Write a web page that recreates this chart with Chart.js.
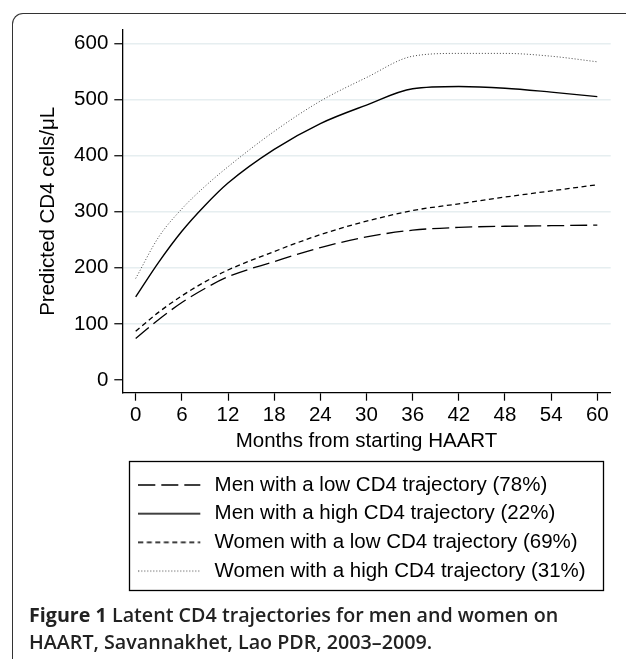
<!DOCTYPE html>
<html>
<head>
<meta charset="utf-8">
<script src="https://cdn.jsdelivr.net/npm/chart.js@4"></script>
<style>
  body { margin: 0; background: #fff; }
  .wrap { position: absolute; left: 0; top: 0; width: 626px; height: 659px; overflow: hidden; }
  .frame { position: absolute; left: 12px; top: 13px; width: 800px; height: 800px;
           border-top: 1.4px solid #333; border-left: 1.4px solid #333; border-top-left-radius: 11px; }
  .box { position: absolute; left: 0; top: 0; width: 626px; height: 659px; }
  .cap { position: absolute; left: 29px; top: 602px; font-family: "Open Sans", "Noto Sans", sans-serif;
         font-size: 19.7px; line-height: 26.7px; font-weight: 600; color: #222; white-space: nowrap; }
  .cap b { font-weight: 700; }
</style>
</head>
<body>
<div class="wrap">
  <div class="frame"></div>
  <div class="box"><canvas id="cd4"></canvas></div>
  <div class="cap"><b>Figure 1</b> Latent CD4 trajectories for men and women on<br>HAART, Savannakhet, Lao PDR, 2003–2009.</div>
</div>
<script>
// months since HAART start and predicted CD4 (cells/uL)
const months = [0, 3, 6, 9, 12, 18, 24, 30, 36, 42, 48, 54, 60]
const menLow    = [74, 108, 138, 163, 184, 211, 236, 255, 267, 272, 274, 275, 276]
const menHigh   = [148, 210, 265, 311, 351, 411, 457, 490, 519, 523, 520, 513, 505]
const womenLow  = [87, 121, 150, 175, 196, 229, 259, 283, 302, 314, 326, 337, 348]
const womenHigh = [181, 255, 305, 345, 380, 443, 497, 539, 577, 582, 582, 577, 567]

const seriesNames = [
    'Men with a low CD4 trajectory (78%)',
    'Men with a high CD4 trajectory (22%)',
    'Women with a low CD4 trajectory (69%)',
    'Women with a high CD4 trajectory (31%)'
]
const xTicks = [0, 6, 12, 18, 24, 30, 36, 42, 48, 54, 60]
const yTicks = [0, 100, 200, 300, 400, 500, 600]

const FONT = 'Liberation Sans, Arial, Helvetica, sans-serif'
const FS = 20.5
const SAMPLE_W = 66   // legend slot for the line sample
const SAMPLE_LINE = 62

function pts(vals){
    return months.map((m, i) => ({x: m, y: vals[i]}))
}

// small canvas with the dash pattern, used as the legend sample
// (chart.js legend ignores borderDash when usePointStyle is on)
function sample(dash, color, width){
    const c = document.createElement('canvas')
    c.width = SAMPLE_W
    c.height = 6
    const g = c.getContext('2d')
    g.strokeStyle = color
    g.lineWidth = width
    g.setLineDash(dash)
    g.beginPath()
    g.moveTo(0, 3)
    g.lineTo(SAMPLE_LINE, 3)
    g.stroke()
    return c
}

function line(label, vals, dash, color, width){
    return {
        label: label,
        data: pts(vals),
        borderColor: color,
        backgroundColor: color,
        borderWidth: width,
        borderDash: dash,
        pointRadius: 0,
        pointStyle: sample(dash, color, width),
        cubicInterpolationMode: 'monotone',
        fill: false
    }
}

// legend frame + legend placement
const legendFrame = {
    id: 'legendFrame',
    afterLayout(chart){
        chart.legend.left = 130.1
    },
    afterDraw(chart){
        const ctx = chart.ctx
        ctx.save()
        ctx.strokeStyle = '#000'
        ctx.lineWidth = 1.3
        ctx.strokeRect(129.5, 461.5, 474, 129)
        ctx.restore()
    }
}

const ctx = document.getElementById('cd4').getContext('2d')

new Chart(ctx, {
    type: 'line',
    data: {
        datasets: [
            line(seriesNames[0], menLow, [17, 6], '#000', 1.3),
            line(seriesNames[1], menHigh, [], '#000', 1.4),
            line(seriesNames[2], womenLow, [5, 3.5], '#000', 1.3),
            line(seriesNames[3], womenHigh, [1, 2], '#444', 1)
        ]
    },
    options: {
        responsive: true,
        maintainAspectRatio: false,
        animation: false,
        layout: { padding: { top: 30, right: 15.3, left: 0, bottom: 67.7 } },
        plugins: {
            tooltip: { enabled: false },
            legend: {
                position: 'bottom',
                align: 'start',
                labels: {
                    usePointStyle: true,
                    pointStyleWidth: SAMPLE_W,
                    boxHeight: 10,
                    padding: 8.2,
                    color: '#000',
                    font: { family: FONT, size: FS }
                }
            }
        },
        scales: {
            x: {
                type: 'linear',
                min: -1.74,
                max: 61.74,
                afterBuildTicks: s => { s.ticks = xTicks.map(v => ({value: v})) },
                afterFit: s => { s.height = 73.8 },
                grid: { drawOnChartArea: false, drawTicks: true, tickLength: 8, tickColor: '#000', tickWidth: 1.2 },
                border: { display: true, color: '#000', width: 1.3 },
                ticks: { color: '#000', padding: 2, maxRotation: 0, autoSkip: false, font: { family: FONT, size: FS } },
                title: { display: true, text: 'Months from starting HAART', color: '#000',
                         padding: { top: 0, bottom: 12.5 }, font: { family: FONT, size: FS } }
            },
            y: {
                type: 'linear',
                min: -22.6,
                max: 623.7,
                afterBuildTicks: s => { s.ticks = yTicks.map(v => ({value: v})) },
                afterFit: s => { s.width = 122.3 },
                grid: {
                    color: c => c.tick && c.tick.value === 0 ? 'rgba(0,0,0,0)' : '#e6eef0',
                    lineWidth: 1.5,
                    tickLength: 8, tickColor: '#000', tickWidth: 1.2
                },
                border: { display: true, color: '#000', width: 1.3 },
                ticks: { color: '#000', padding: 6, font: { family: FONT, size: FS } },
                title: { display: true, text: 'Predicted CD4 cells/μL', color: '#000',
                         padding: { top: 36, bottom: 0 }, font: { family: FONT, size: FS } }
            }
        }
    },
    plugins: [legendFrame]
})
</script>
</body>
</html>
